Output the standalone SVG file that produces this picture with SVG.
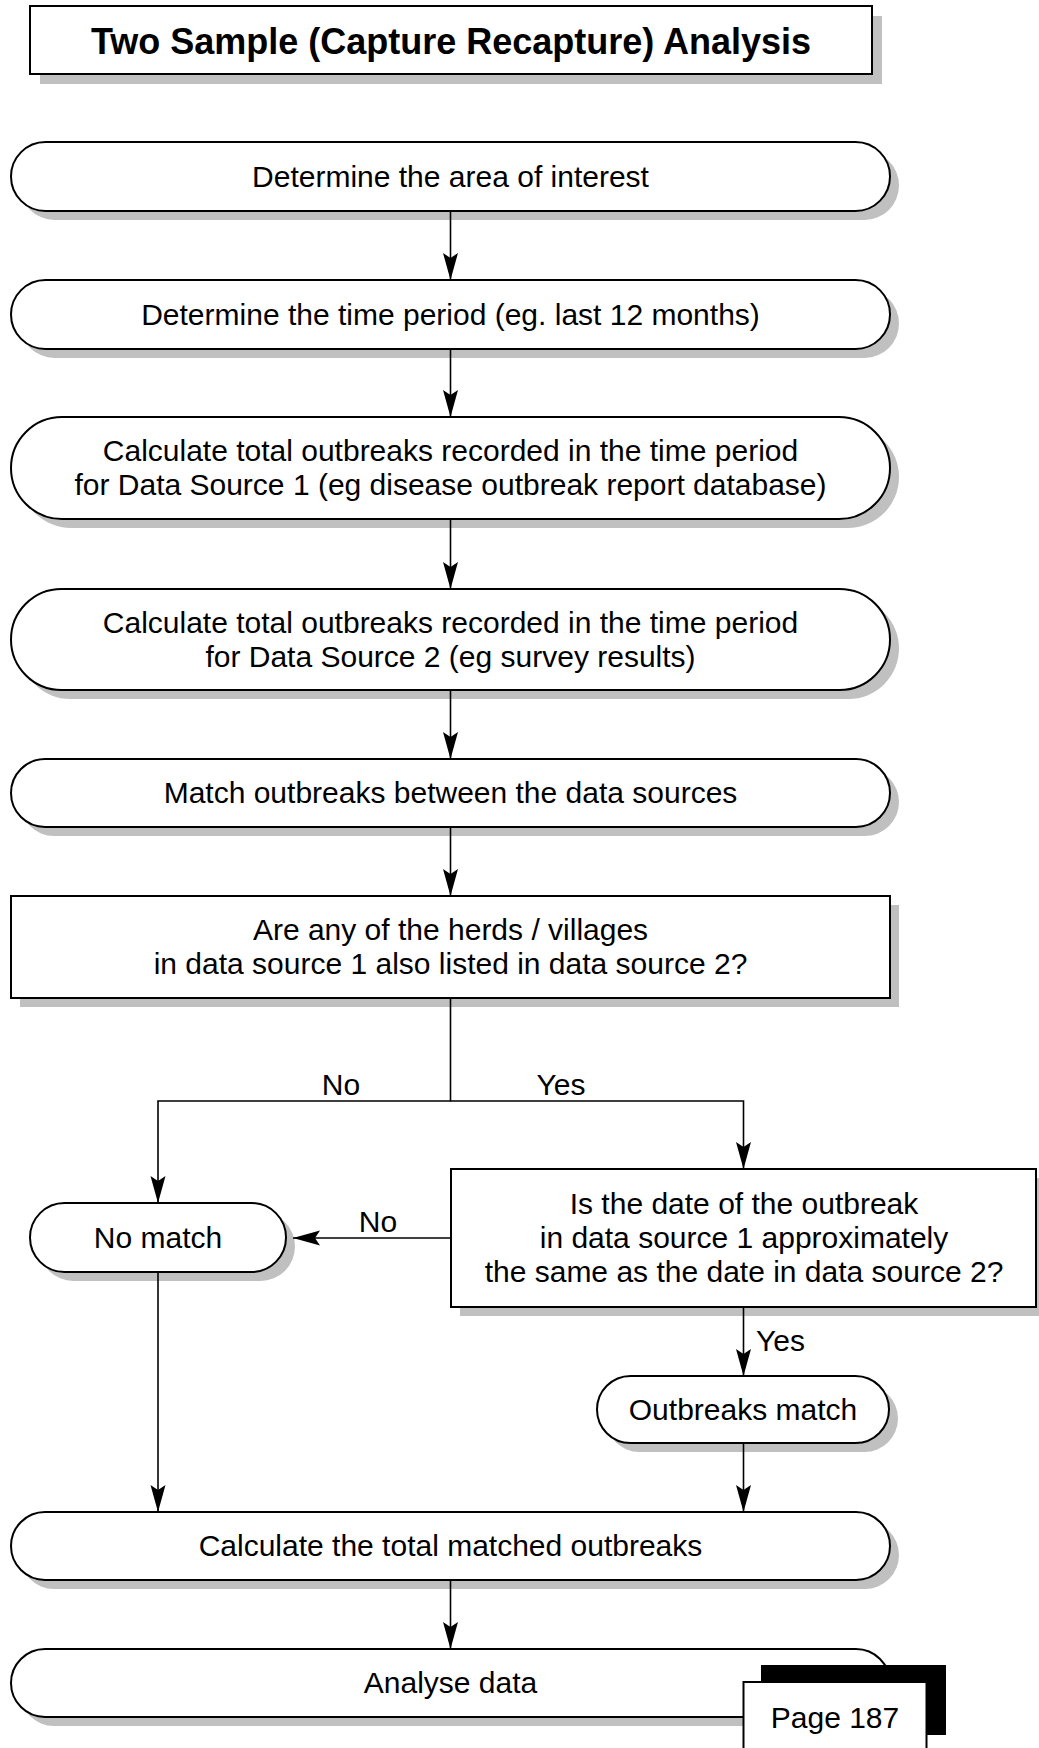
<svg xmlns="http://www.w3.org/2000/svg" width="1039" height="1748" viewBox="0 0 1039 1748">
<style>
text{font-family:"Liberation Sans",Arial,Helvetica,sans-serif;font-size:30px;fill:#000;text-anchor:middle}
.title{font-weight:bold;font-size:36px}
.shape{fill:#fff;stroke:#000;stroke-width:2}
.shadow{fill:#c0c0c0;stroke:none}
.conn{fill:none;stroke:#000;stroke-width:1.6}
.lbl{text-anchor:middle}
</style>
<defs>
<marker id="arr" markerUnits="userSpaceOnUse" markerWidth="30" markerHeight="18" refX="27" refY="8" orient="auto" overflow="visible">
<path d="M27,8 L0,0.5 L5,8 L0,15.5 Z" fill="#000"/>
</marker>
</defs>
<rect width="1039" height="1748" fill="#fff"/>

<g id="title">
<rect class="shadow" x="40" y="16" width="842" height="68"/>
<rect class="shape" x="30" y="6" width="842" height="68" stroke-width="2.5"/>
<text class="title" x="451" y="54">Two Sample (Capture Recapture) Analysis</text>
</g>

<g id="n1">
<rect class="shadow" x="20" y="151" width="879" height="69" rx="34.5"/>
<rect class="shape" x="11" y="142" width="879" height="69" rx="34.5"/>
<text x="450.5" y="187">Determine the area of interest</text>
</g>

<g id="n2">
<rect class="shadow" x="20" y="289" width="879" height="69" rx="34.5"/>
<rect class="shape" x="11" y="280" width="879" height="69" rx="34.5"/>
<text x="450.5" y="325">Determine the time period (eg. last 12 months)</text>
</g>

<g id="n3">
<rect class="shadow" x="20" y="426" width="879" height="102" rx="51"/>
<rect class="shape" x="11" y="417" width="879" height="102" rx="51"/>
<text x="450.5" y="461">Calculate total outbreaks recorded in the time period</text>
<text x="450.5" y="495">for Data Source 1 (eg disease outbreak report database)</text>
</g>

<g id="n4">
<rect class="shadow" x="20" y="598" width="879" height="101" rx="50.5"/>
<rect class="shape" x="11" y="589" width="879" height="101" rx="50.5"/>
<text x="450.5" y="633">Calculate total outbreaks recorded in the time period</text>
<text x="450.5" y="667">for Data Source 2 (eg survey results)</text>
</g>

<g id="n5">
<rect class="shadow" x="20" y="768" width="879" height="68" rx="34"/>
<rect class="shape" x="11" y="759" width="879" height="68" rx="34"/>
<text x="450.5" y="803">Match outbreaks between the data sources</text>
</g>

<g id="n6">
<rect class="shadow" x="20" y="905" width="879" height="102"/>
<rect class="shape" x="11" y="896" width="879" height="102"/>
<text x="450.5" y="940">Are any of the herds / villages</text>
<text x="450.5" y="974">in data source 1 also listed in data source 2?</text>
</g>

<g id="nomatch">
<rect class="shadow" x="39" y="1212" width="256" height="69" rx="34.5"/>
<rect class="shape" x="30" y="1203" width="256" height="69" rx="34.5"/>
<text x="158" y="1248">No match</text>
</g>

<g id="n7">
<rect class="shadow" x="460" y="1178" width="586" height="138"/>
<rect class="shape" x="451" y="1169" width="585" height="138"/>
<text x="744" y="1214">Is the date of the outbreak</text>
<text x="744" y="1248">in data source 1 approximately</text>
<text x="744" y="1282">the same as the date in data source 2?</text>
</g>

<g id="match">
<rect class="shadow" x="606" y="1385" width="292" height="67" rx="33.5"/>
<rect class="shape" x="597" y="1376" width="292" height="67" rx="33.5"/>
<text x="743" y="1420">Outbreaks match</text>
</g>

<g id="n8">
<rect class="shadow" x="20" y="1521" width="879" height="68" rx="34"/>
<rect class="shape" x="11" y="1512" width="879" height="68" rx="34"/>
<text x="450.5" y="1556">Calculate the total matched outbreaks</text>
</g>

<g id="n9">
<rect class="shadow" x="20" y="1658" width="879" height="68" rx="34"/>
<rect class="shape" x="11" y="1649" width="879" height="68" rx="34"/>
<text x="450.5" y="1693">Analyse data</text>
</g>

<g id="connectors">
<line class="conn" x1="450.5" y1="211" x2="450.5" y2="280" marker-end="url(#arr)"/>
<line class="conn" x1="450.5" y1="349" x2="450.5" y2="417" marker-end="url(#arr)"/>
<line class="conn" x1="450.5" y1="519" x2="450.5" y2="589" marker-end="url(#arr)"/>
<line class="conn" x1="450.5" y1="690" x2="450.5" y2="759" marker-end="url(#arr)"/>
<line class="conn" x1="450.5" y1="827" x2="450.5" y2="896" marker-end="url(#arr)"/>
<polyline class="conn" points="450.5,998 450.5,1101 158,1101 158,1203" marker-end="url(#arr)"/>
<polyline class="conn" points="450.5,1101 743.5,1101 743.5,1169" marker-end="url(#arr)"/>
<line class="conn" x1="451" y1="1238" x2="293" y2="1238" marker-end="url(#arr)"/>
<line class="conn" x1="743.5" y1="1307" x2="743.5" y2="1376" marker-end="url(#arr)"/>
<line class="conn" x1="743.5" y1="1443" x2="743.5" y2="1512" marker-end="url(#arr)"/>
<line class="conn" x1="158" y1="1272" x2="158" y2="1512" marker-end="url(#arr)"/>
<line class="conn" x1="450.5" y1="1580" x2="450.5" y2="1649" marker-end="url(#arr)"/>
<text class="lbl" x="341" y="1095">No</text>
<text class="lbl" x="561" y="1095">Yes</text>
<text class="lbl" x="378" y="1232">No</text>
<text x="756" y="1351" style="text-anchor:start">Yes</text>
</g>

<g id="page">
<rect x="761" y="1665" width="185" height="70" fill="#000"/>
<rect class="shape" x="743.5" y="1682" width="183" height="80"/>
<text x="835" y="1728">Page 187</text>
</g>
</svg>
